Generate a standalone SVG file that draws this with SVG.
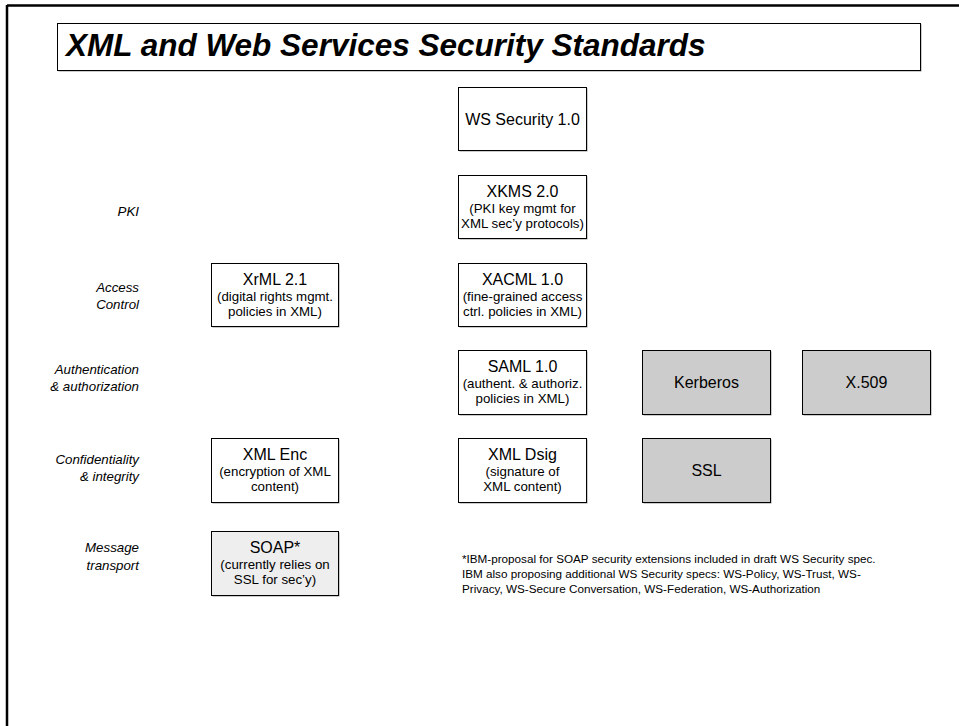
<svg xmlns="http://www.w3.org/2000/svg" width="959" height="726" viewBox="0 0 959 726">
<style>
text{font-family:"Liberation Sans",Arial,sans-serif;fill:#000}
.t{font-size:16px;text-anchor:middle}
.s{font-size:13.3px;text-anchor:middle}
.lab{font-size:13.3px;font-style:italic;text-anchor:end}
.box{fill:#fff;stroke:#000;stroke-width:1}
.gray{fill:#cccccc;stroke:#000;stroke-width:1}
.light{fill:#eeeeee;stroke:#000;stroke-width:1}
.sh{fill:#999}
.fn{font-size:11.7px}
</style>
<rect width="959" height="726" fill="#fff"/>
<g id="frame">
<line x1="7" y1="5.5" x2="959" y2="5.5" stroke="#000" stroke-width="2.5"/>
<line x1="7" y1="5" x2="7" y2="726" stroke="#000" stroke-width="2.5"/>
</g>
<g id="title">
<rect x="58.5" y="24.5" width="863" height="47" class="sh"/>
<rect x="57.5" y="23.5" width="863" height="47" class="box"/>
<text x="66" y="56" style="font-size:31.5px;font-weight:bold;font-style:italic">XML and Web Services Security Standards</text>
</g>
<g id="labels">
<text class="lab" x="139" y="215.5">PKI</text>
<text class="lab" x="139" y="291.5">Access</text>
<text class="lab" x="139" y="309">Control</text>
<text class="lab" x="139" y="373.5">Authentication</text>
<text class="lab" x="139" y="391">&amp; authorization</text>
<text class="lab" x="139" y="463.5">Confidentiality</text>
<text class="lab" x="139" y="481">&amp; integrity</text>
<text class="lab" x="139" y="552">Message</text>
<text class="lab" x="139" y="569.5">transport</text>
</g>
<g id="ws-security">
<rect x="459.5" y="88.5" width="128" height="63" class="sh"/>
<rect x="458.5" y="87.5" width="128" height="63" class="box"/>
<text class="t" x="522.5" y="125">WS Security 1.0</text>
</g>
<g id="xkms">
<rect x="459.5" y="176.5" width="128" height="63" class="sh"/>
<rect x="458.5" y="175.5" width="128" height="63" class="box"/>
<text class="t" x="522.5" y="197">XKMS 2.0</text>
<text class="s" x="522.5" y="213">(PKI key mgmt for</text>
<text class="s" x="522.5" y="228">XML sec’y protocols)</text>
</g>
<g id="xacml">
<rect x="459.5" y="264.5" width="128" height="63" class="sh"/>
<rect x="458.5" y="263.5" width="128" height="63" class="box"/>
<text class="t" x="522.5" y="285">XACML 1.0</text>
<text class="s" x="522.5" y="301">(fine-grained access</text>
<text class="s" x="522.5" y="316">ctrl. policies in XML)</text>
</g>
<g id="saml">
<rect x="459.5" y="351.5" width="128" height="64" class="sh"/>
<rect x="458.5" y="350.5" width="128" height="64" class="box"/>
<text class="t" x="522.5" y="372">SAML 1.0</text>
<text class="s" x="522.5" y="388">(authent. &amp; authoriz.</text>
<text class="s" x="522.5" y="403">policies in XML)</text>
</g>
<g id="xml-dsig">
<rect x="459.5" y="439.5" width="128" height="64" class="sh"/>
<rect x="458.5" y="438.5" width="128" height="64" class="box"/>
<text class="t" x="522.5" y="460">XML Dsig</text>
<text class="s" x="522.5" y="476">(signature of</text>
<text class="s" x="522.5" y="491">XML content)</text>
</g>
<g id="xrml">
<rect x="212.5" y="264.5" width="127" height="63" class="sh"/>
<rect x="211.5" y="263.5" width="127" height="63" class="box"/>
<text class="t" x="275" y="285">XrML 2.1</text>
<text class="s" x="275" y="301">(digital rights mgmt.</text>
<text class="s" x="275" y="316">policies in XML)</text>
</g>
<g id="xml-enc">
<rect x="212.5" y="439.5" width="127" height="64" class="sh"/>
<rect x="211.5" y="438.5" width="127" height="64" class="box"/>
<text class="t" x="275" y="460">XML Enc</text>
<text class="s" x="275" y="476">(encryption of XML</text>
<text class="s" x="275" y="491">content)</text>
</g>
<g id="soap">
<rect x="212.5" y="532.5" width="127" height="64" class="sh"/>
<rect x="211.5" y="531.5" width="127" height="64" class="light"/>
<text class="t" x="275" y="553">SOAP*</text>
<text class="s" x="275" y="569">(currently relies on</text>
<text class="s" x="275" y="584">SSL for sec’y)</text>
</g>
<g id="kerberos">
<rect x="643.5" y="351.5" width="128" height="64" class="sh"/>
<rect x="642.5" y="350.5" width="128" height="64" class="gray"/>
<text class="t" x="706.5" y="388">Kerberos</text>
</g>
<g id="x509">
<rect x="803.5" y="351.5" width="128" height="64" class="sh"/>
<rect x="802.5" y="350.5" width="128" height="64" class="gray"/>
<text class="t" x="866.5" y="388">X.509</text>
</g>
<g id="ssl">
<rect x="643.5" y="439.5" width="128" height="64" class="sh"/>
<rect x="642.5" y="438.5" width="128" height="64" class="gray"/>
<text class="t" x="706.5" y="476">SSL</text>
</g>
<g id="footnote">
<text class="fn" x="462" y="563">*IBM-proposal for SOAP security extensions included in draft WS Security spec.</text>
<text class="fn" x="462" y="578">IBM also proposing additional WS Security specs: WS-Policy, WS-Trust, WS-</text>
<text class="fn" x="462" y="593">Privacy, WS-Secure Conversation, WS-Federation, WS-Authorization</text>
</g>
<g id="connectors"></g>
</svg>
